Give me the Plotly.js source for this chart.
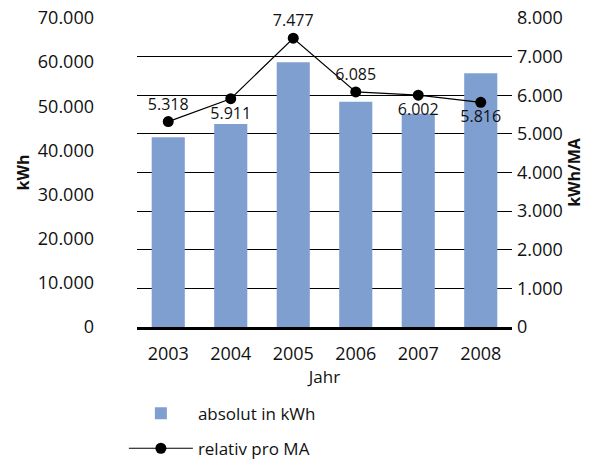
<!DOCTYPE html>
<html>
<head>
<meta charset="utf-8">
<script src="https://cdn.plot.ly/plotly-3.0.1.min.js"></script>
<style>html,body{margin:0;padding:0;background:#fff;}#chart{width:603px;height:459px;}</style>
</head>
<body>
<div id="chart"></div>
<script>
var years = ['2003', '2004', '2005', '2006', '2007', '2008'];
var absolutKWh = [43000, 46000, 60000, 51000, 48300, 57500];
var relativProMA = [5318, 5911, 7477, 6085, 6002, 5816];
var labelPositions = ['top center', 'bottom center', 'top center', 'top center', 'bottom center', 'bottom center'];

var FONT = 'Open Sans, sans-serif';

var traces = [
  {
    type: 'bar', x: years, y: absolutKWh, name: 'absolut in kWh',
    marker: {color: '#809fd1'}, yaxis: 'y', legendgroup: 'a'
  },
  {
    type: 'scatter', mode: 'lines+markers+text', x: years, y: relativProMA,
    name: 'relativ pro MA', yaxis: 'y2', legendgroup: 'b', cliponaxis: false,
    line: {color: '#000', width: 1.2},
    marker: {color: '#000', size: 11},
    texttemplate: '%{y:,}', textposition: labelPositions,
    textfont: {family: FONT, size: 16, color: '#111'}
  }
];

var layout = {
  width: 603, height: 459,
  margin: {l: 137, r: 91, t: 18, b: 132, autoexpand: false},
  paper_bgcolor: '#fff', plot_bgcolor: '#fff',
  separators: ',.',
  font: {family: FONT, size: 18, color: '#111'},
  bargap: 0.47,
  showlegend: true,
  legend: {
    x: -0.035, y: -0.222, xanchor: 'left', yanchor: 'top',
    font: {family: FONT, size: 17, color: '#111'},
    itemwidth: 64, traceorder: 'grouped', tracegroupgap: 10,
    bgcolor: 'rgba(0,0,0,0)'
  },
  xaxis: {
    type: 'category', showgrid: false, showline: true, linecolor: '#000', linewidth: 3,
    ticks: '', ticklabelstandoff: 8, automargin: false,
    tickfont: {family: FONT, size: 18},
    title: {text: 'Jahr', font: {family: FONT, size: 17}, standoff: 6}
  },
  yaxis: {
    range: [0, 70000], dtick: 10000, tickformat: ',d', showgrid: false, zeroline: false,
    ticks: '', ticklabelstandoff: 42, automargin: false,
    tickfont: {family: FONT, size: 18},
    title: {text: '<b>kWh</b>', font: {family: FONT, size: 16}, standoff: 4}
  },
  yaxis2: {
    range: [0, 8000], dtick: 1000, tickformat: ',d', overlaying: 'y', side: 'right',
    showgrid: true, gridcolor: '#000', gridwidth: 1, zeroline: false,
    ticks: '', ticklabelstandoff: 4, automargin: false,
    tickfont: {family: FONT, size: 18},
    title: {text: '<b>kWh/MA</b>', font: {family: FONT, size: 16}, standoff: 4}
  }
};

Plotly.newPlot('chart', traces, layout, {staticPlot: true, displayModeBar: false});
</script>
</body>
</html>
